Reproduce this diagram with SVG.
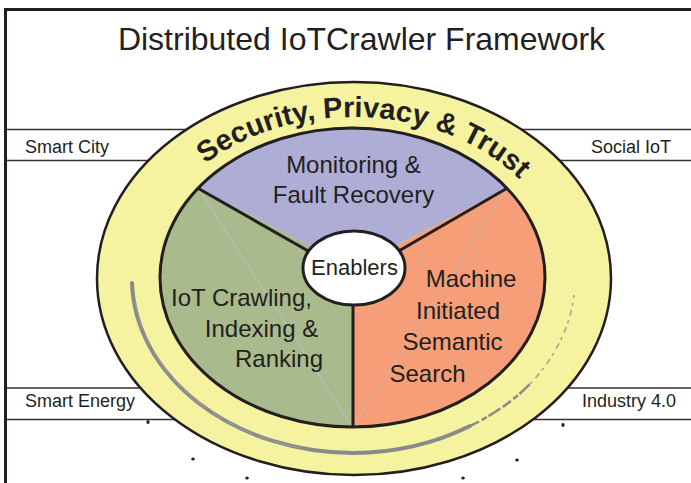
<svg xmlns="http://www.w3.org/2000/svg" width="691" height="483" viewBox="0 0 691 483">
<style>
.t{font-family:"Liberation Sans",Arial,sans-serif;fill:#231f20}
.lbl{font-size:18px}
.sec{font-size:24px;text-anchor:middle}
.ln{stroke:#333;stroke-width:1.5;fill:none}
.bd{stroke:#231f20;stroke-width:3;fill:none}
.dot{fill:#231f20}
</style>
<defs>
<path id="arc" d="M143.5,278 A210,161 0 0 1 563.5,278"/>
</defs>
<rect width="691" height="483" fill="#fff"/>
<path d="M5.5,483 V9.5 H691" class="bd"/>
<g id="title"><text class="t" x="361.5" y="50" font-size="32" text-anchor="middle">Distributed IoTCrawler Framework</text></g>
<g id="strips">
<line class="ln" x1="7" y1="129.5" x2="691" y2="129.5"/>
<line class="ln" x1="7" y1="160.5" x2="691" y2="160.5"/>
<line class="ln" x1="7" y1="388" x2="691" y2="388"/>
<line class="ln" x1="7" y1="419.5" x2="691" y2="419.5"/>
</g>
<g id="smart-city"><text class="t lbl" x="25" y="153">Smart City</text></g>
<g id="social-iot"><text class="t lbl" x="671" y="153" text-anchor="end">Social IoT</text></g>
<g id="smart-energy"><text class="t lbl" x="25" y="407">Smart Energy</text></g>
<g id="industry"><text class="t lbl" x="676" y="407" text-anchor="end">Industry 4.0</text></g>
<g id="dots">
<ellipse class="dot" cx="148" cy="422" rx="1.6" ry="2"/>
<ellipse class="dot" cx="193" cy="459" rx="1.8" ry="1.6"/>
<ellipse class="dot" cx="247" cy="478" rx="1.8" ry="1.6"/>
<ellipse class="dot" cx="463" cy="478" rx="1.8" ry="1.6"/>
<ellipse class="dot" cx="517" cy="460" rx="1.8" ry="1.6"/>
<ellipse class="dot" cx="563" cy="425" rx="1.6" ry="2"/>
</g>
<g id="security-ring">
<ellipse cx="354" cy="278.5" rx="257" ry="196.5" fill="#f5f2a0" stroke="#231f20" stroke-width="2.5"/>
<path d="M132,283 A222,175 0 0 0 353,453 A222,175 0 0 0 470,426" fill="none" stroke="#8a8a8a" stroke-width="4" stroke-linecap="round"/>
<path d="M135,300 A222,175 0 0 0 300,448" fill="none" stroke="#9a9a9a" stroke-width="1.2" stroke-dasharray="30 6 12 4"/>
<path d="M470,426 A222,175 0 0 0 530,384" fill="none" stroke="#8a8a8a" stroke-width="2.5" stroke-dasharray="10 3 6 2 14 3"/>
<path d="M530,384 A222,175 0 0 0 574,295" fill="none" stroke="#a0a0a0" stroke-width="1.5" stroke-dasharray="3 5 6 4"/>
<text class="t" font-size="29" font-weight="bold"><textPath href="#arc" startOffset="52%" text-anchor="middle">Security, Privacy &amp; Trust</textPath></text>
</g>
<g id="monitoring">
<path d="M198,188.3 A192.5,149.5 0 0 1 507,188.3 L353,268 Z" fill="#aeadd5"/>
<text class="t sec" x="353.5" y="173">Monitoring &amp;</text>
<text class="t sec" x="353.5" y="203">Fault Recovery</text>
</g>
<g id="crawling">
<path d="M352.5,427 A192.5,149.5 0 0 1 198,188.3 L353,268 Z" fill="#a9ba8d"/>
<line x1="198" y1="188.3" x2="352.5" y2="427" stroke="#bcc0cc" stroke-width="1"/>
<text class="t sec" x="241.5" y="306">IoT Crawling,</text>
<text class="t sec" x="261.5" y="337">Indexing &amp;</text>
<text class="t sec" x="279" y="367">Ranking</text>
</g>
<g id="search">
<path d="M507,188.3 A192.5,149.5 0 0 1 352.5,427 L353,268 Z" fill="#f59e77"/>
<line x1="507" y1="188.3" x2="352.5" y2="427" stroke="#c8b8b8" stroke-width="1"/>
<text class="t sec" x="471" y="287">Machine</text>
<text class="t sec" x="458" y="319">Initiated</text>
<text class="t sec" x="452.5" y="350">Semantic</text>
<text class="t sec" x="427.5" y="382">Search</text>
</g>
<g id="connectors">
<ellipse cx="352.5" cy="277.5" rx="192.5" ry="149.5" class="bd"/>
<line class="bd" x1="198" y1="188.3" x2="310" y2="252"/>
<line class="bd" x1="507" y1="188.3" x2="397" y2="252"/>
<line class="bd" x1="353" y1="300" x2="353" y2="427"/>
</g>
<g id="enablers">
<ellipse cx="354" cy="268" rx="51" ry="37" fill="#fff" stroke="#231f20" stroke-width="3"/>
<text class="t" x="354.5" y="275" font-size="22" text-anchor="middle">Enablers</text>
</g>
</svg>
